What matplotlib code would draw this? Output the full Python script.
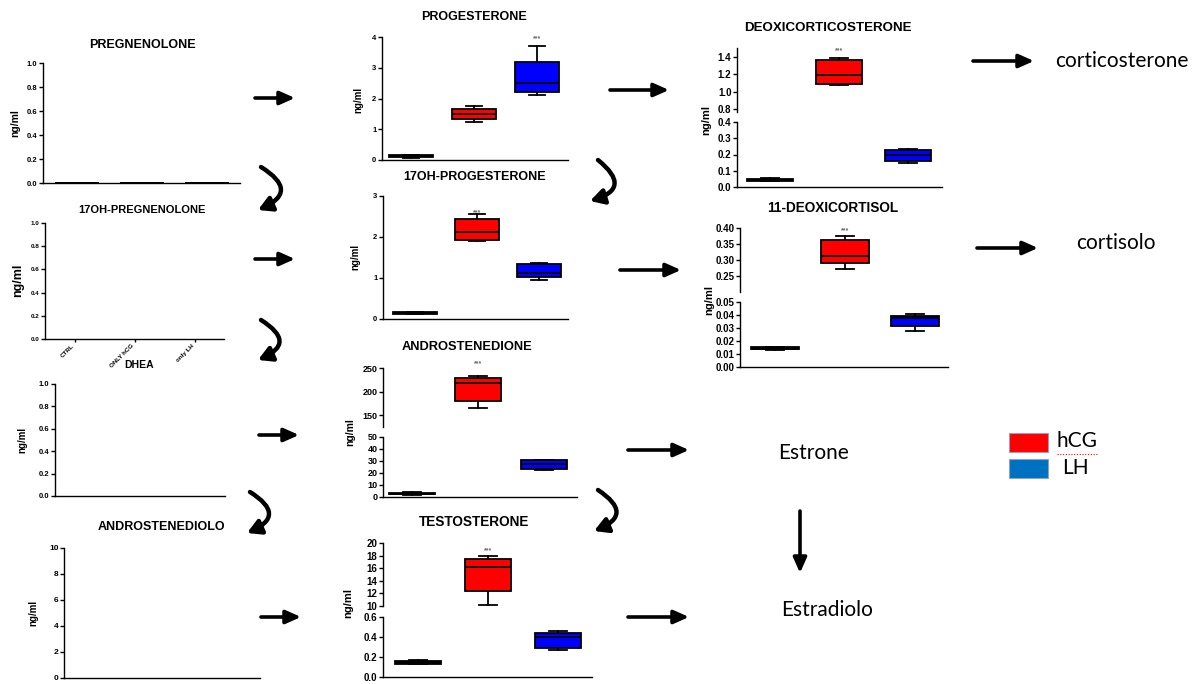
import matplotlib
matplotlib.use('Agg')
import matplotlib.pyplot as plt
from matplotlib.patches import Rectangle
from matplotlib.ticker import FormatStrFormatter

W, H = 1199, 684
plt.rcParams['font.family'] = ['Liberation Sans', 'DejaVu Sans']
plt.rcParams['font.weight'] = 'bold'

groups = ['CTRL', 'ONLY hCG', 'only LH']
group_colors = ['black', '#FF0000', '#0000FF']

# box stats per group: [whislo, q1, median, q3, whishi]  (ng/ml)
preg_ctrl = [0, 0, 0, 0, 0]
preg_hcg = [0, 0, 0, 0, 0]
preg_lh = [0, 0, 0, 0, 0]

prog_ctrl = [0.08, 0.09, 0.12, 0.15, 0.15]
prog_hcg = [1.22, 1.33, 1.48, 1.65, 1.77]
prog_lh = [2.12, 2.20, 2.52, 3.20, 3.72]

ohprog_ctrl = [0.12, 0.13, 0.15, 0.17, 0.17]
ohprog_hcg = [1.90, 1.93, 2.12, 2.43, 2.55]
ohprog_lh = [0.95, 1.03, 1.13, 1.33, 1.37]

andro_ctrl = [2.0, 2.2, 2.5, 3.3, 3.8]
andro_hcg = [166, 180, 219, 229, 234]
andro_lh = [22.5, 23.5, 27.5, 30.8, 31.0]

testo_ctrl = [0.13, 0.135, 0.15, 0.16, 0.175]
testo_hcg = [10.15, 12.4, 16.25, 17.5, 18.0]
testo_lh = [0.27, 0.29, 0.40, 0.44, 0.457]

doc_ctrl = [0.037, 0.038, 0.045, 0.052, 0.053]
doc_hcg = [1.075, 1.095, 1.19, 1.36, 1.39]
doc_lh = [0.148, 0.16, 0.195, 0.226, 0.235]

dcl_ctrl = [0.0128, 0.0135, 0.014, 0.0152, 0.0156]
dcl_hcg = [0.271, 0.291, 0.311, 0.361, 0.375]
dcl_lh = [0.0277, 0.0318, 0.0375, 0.0395, 0.041]

fig = plt.figure(figsize=(W / 100, H / 100), dpi=100)
ov = fig.add_axes([0, 0, 1, 1])
ov.set_xlim(0, W)
ov.set_ylim(H, 0)
ov.axis('off')


def rect(x0, x1, yt, yb):
    return [x0 / W, 1 - yb / H, (x1 - x0) / W, (yb - yt) / H]


def make_ax(x0, x1, yt, yb, c0, sp, fs, bottom=True):
    ax = fig.add_axes(rect(x0, x1, yt, yb))
    ax.set_xlim((x0 - c0) / sp, (x1 - c0) / sp)
    for s in ['top', 'right']:
        ax.spines[s].set_visible(False)
    ax.spines['bottom'].set_visible(bottom)
    ax.spines['left'].set_linewidth(1.0)
    ax.spines['bottom'].set_linewidth(1.0)
    ax.tick_params(axis='y', length=3, width=1, labelsize=fs, pad=1)
    ax.tick_params(axis='x', length=0, labelbottom=False)
    ax.patch.set_alpha(0)
    return ax


def draw_boxes(ax, data, width=0.68, capw=0.25):
    stats = [dict(whislo=d[0], q1=d[1], med=d[2], q3=d[3], whishi=d[4]) for d in data]
    bp = ax.bxp(stats, positions=[0, 1, 2], widths=width, capwidths=capw,
                patch_artist=True, showfliers=False, manage_ticks=False,
                boxprops=dict(linewidth=1.3, edgecolor='black'),
                medianprops=dict(color='black', linewidth=1.3),
                whiskerprops=dict(color='black', linewidth=1.3),
                capprops=dict(color='black', linewidth=1.3))
    for patch, c in zip(bp['boxes'], group_colors):
        patch.set_facecolor(c)


def ylab(x, y, fs):
    ov.text(x, y, 'ng/ml', rotation=90, ha='center', va='center', fontsize=fs, fontweight='bold')


def title(x, y, t, fs=8.5):
    ov.text(x, y, t, ha='center', va='center', fontsize=fs, fontweight='bold')


def stars(ax, x, y):
    ax.text(x, y, '***', ha='center', va='center', fontsize=5, color='#666666', clip_on=False)


# ---------- left column ----------
ax = make_ax(43, 240, 63, 183, 77, 65, 5.5)
ax.set_ylim(0, 1)
ax.set_yticks([0, 0.2, 0.4, 0.6, 0.8, 1.0])
ax.yaxis.set_major_formatter(FormatStrFormatter('%.1f'))
draw_boxes(ax, [preg_ctrl, preg_hcg, preg_lh])
title(142, 45, 'PREGNENOLONE', 9)
ylab(15, 123, 7.5)

ax = make_ax(45, 224, 223, 339, 75, 60, 4.5)
ax.set_ylim(0, 1)
ax.set_yticks([0, 0.2, 0.4, 0.6, 0.8, 1.0])
ax.yaxis.set_major_formatter(FormatStrFormatter('%.1f'))
ax.set_xticks([0, 1, 2])
ax.set_xticklabels(groups, rotation=45, ha='right', fontsize=4.5)
ax.tick_params(axis='x', length=2, width=1, labelbottom=True, pad=1)
title(142, 210, '17OH-PREGNENOLONE', 8)
ylab(18, 280, 9)

ax = make_ax(55, 225, 384, 496, 85, 57, 5.5)
ax.set_ylim(0, 1)
ax.set_yticks([0, 0.2, 0.4, 0.6, 0.8, 1.0])
ax.yaxis.set_major_formatter(FormatStrFormatter('%.1f'))
title(139, 365, 'DHEA', 7.5)
ylab(22, 440, 7)

ax = make_ax(64, 260, 548, 678, 97, 65, 6)
ax.set_ylim(0, 10)
ax.set_yticks([0, 2, 4, 6, 8, 10])
title(162, 527, 'ANDROSTENEDIOLO', 9)
ylab(33, 613, 7)

# ---------- middle column ----------
ax = make_ax(382, 568, 37, 160, 411, 63, 5.5)
ax.set_ylim(0, 4)
ax.set_yticks([0, 1, 2, 3, 4])
draw_boxes(ax, [prog_ctrl, prog_hcg, prog_lh], 0.71, 0.26)
stars(ax, 2, 3.95)
title(474, 17, 'PROGESTERONE', 9)
ylab(358, 100, 7)

ax = make_ax(383, 568, 196, 319, 415, 62, 5.5)
ax.set_ylim(0, 3)
ax.set_yticks([0, 1, 2, 3])
draw_boxes(ax, [ohprog_ctrl, ohprog_hcg, ohprog_lh], 0.70, 0.26)
stars(ax, 1, 2.6)
title(475, 177, '17OH-PROGESTERONE', 9)
ylab(355, 257, 7)

axu = make_ax(383, 577, 368, 427, 412, 66, 6.5, bottom=False)
axu.set_ylim(125, 250)
axu.set_yticks([150, 200, 250])
draw_boxes(axu, [andro_ctrl, andro_hcg, andro_lh], 0.69, 0.26)
stars(axu, 1, 260)
axl = make_ax(383, 577, 437, 497, 412, 66, 6.5)
axl.set_ylim(0, 50)
axl.set_yticks([0, 10, 20, 30, 40, 50])
draw_boxes(axl, [andro_ctrl, andro_hcg, andro_lh], 0.69, 0.26)
title(467, 347, 'ANDROSTENEDIONE', 9.3)
ylab(350, 432, 7.5)

axu = make_ax(383, 592, 543, 606, 418, 70, 7, bottom=False)
axu.set_ylim(10, 20)
axu.set_yticks([10, 12, 14, 16, 18, 20])
draw_boxes(axu, [testo_ctrl, testo_hcg, testo_lh], 0.67, 0.25)
stars(axu, 1, 18.75)
axl = make_ax(383, 592, 617, 677, 418, 70, 7)
axl.set_ylim(0, 0.6)
axl.set_yticks([0, 0.2, 0.4, 0.6])
axl.yaxis.set_major_formatter(FormatStrFormatter('%.1f'))
draw_boxes(axl, [testo_ctrl, testo_hcg, testo_lh], 0.67, 0.25)
title(474, 522, 'TESTOSTERONE', 9.8)
ylab(348, 603, 8)

# ---------- right column ----------
axu = make_ax(737, 942, 48, 112, 770, 69, 7, bottom=False)
axu.set_ylim(0.77, 1.5)
axu.set_yticks([0.8, 1.0, 1.2, 1.4])
axu.yaxis.set_major_formatter(FormatStrFormatter('%.1f'))
draw_boxes(axu, [doc_ctrl, doc_hcg, doc_lh], 0.67, 0.25)
stars(axu, 1, 1.47)
axl = make_ax(737, 942, 122, 187, 770, 69, 7)
axl.set_ylim(0, 0.4)
axl.set_yticks([0, 0.1, 0.2, 0.3, 0.4])
axl.yaxis.set_major_formatter(FormatStrFormatter('%.1f'))
draw_boxes(axl, [doc_ctrl, doc_hcg, doc_lh], 0.67, 0.25)
title(828, 28, 'DEOXICORTICOSTERONE', 9.6)
ylab(706, 120, 8)

axu = make_ax(740, 948, 228, 292, 775, 70, 7, bottom=False)
axu.set_ylim(0.2, 0.4)
axu.set_yticks([0.25, 0.30, 0.35, 0.40])
axu.yaxis.set_major_formatter(FormatStrFormatter('%.2f'))
draw_boxes(axu, [dcl_ctrl, dcl_hcg, dcl_lh], 0.68, 0.25)
stars(axu, 1, 0.391)
axl = make_ax(740, 948, 302, 367, 775, 70, 7)
axl.set_ylim(0, 0.05)
axl.set_yticks([0, 0.01, 0.02, 0.03, 0.04, 0.05])
axl.yaxis.set_major_formatter(FormatStrFormatter('%.2f'))
draw_boxes(axl, [dcl_ctrl, dcl_hcg, dcl_lh], 0.68, 0.25)
title(833, 208, '11-DEOXICORTISOL', 9.8)
ylab(709, 300, 8)

# ---------- arrows ----------
straight = [((255, 98), (295, 98)), ((255, 259), (295, 259)), ((259, 435), (299, 435)),
            ((261, 617), (301, 617)), ((610, 90), (669, 90)), ((620, 270), (681, 270)),
            ((628, 450), (689, 450)), ((628, 617), (689, 617)), ((973, 61), (1034, 61)),
            ((977, 248), (1038, 248)), ((800, 511), (800, 573))]
for (x0, y0), (x1, y1) in straight:
    ov.annotate('', xy=(x1, y1), xytext=(x0, y0),
                arrowprops=dict(arrowstyle='-|>,head_length=0.9,head_width=0.4',
                                lw=2.6, color='black', mutation_scale=10,
                                shrinkA=0, shrinkB=0))

curved = [((261, 167), (258, 210)), ((261, 320), (258, 360)), ((250, 492), (247, 533)),
          ((598, 160), (590, 201)), ((598, 490), (594, 531))]
for (x0, y0), (x1, y1) in curved:
    ov.annotate('', xy=(x1, y1), xytext=(x0, y0),
                arrowprops=dict(arrowstyle='-|>,head_length=0.8,head_width=0.45',
                                lw=3.2, color='black', mutation_scale=10,
                                connectionstyle='arc3,rad=-0.95',
                                shrinkA=0, shrinkB=0))

# ---------- text labels ----------
tfont = dict(fontsize=15, fontweight='normal', family=['Lato', 'DejaVu Sans'], va='center')
ov.text(1055, 61, 'corticosterone', **tfont)
ov.text(1076, 243, 'cortisolo', **tfont)
ov.text(778, 453, 'Estrone', **tfont)
ov.text(781, 610, 'Estradiolo', **tfont)

# legend
ov.add_patch(Rectangle((1009, 433), 39, 19, facecolor='#FF0000', edgecolor='#8FA3C0', lw=0.8))
ov.add_patch(Rectangle((1009, 459), 39, 19, facecolor='#0070C0', edgecolor='#8FA3C0', lw=0.8))
ov.text(1056, 441, 'hCG', **tfont)
ov.text(1062, 468, 'LH', **tfont)
ov.plot([1057, 1097], [454, 454], color='#FF0000', lw=0.8, ls=(0, (1, 1.5)))

fig.savefig('out.png', dpi=100)
